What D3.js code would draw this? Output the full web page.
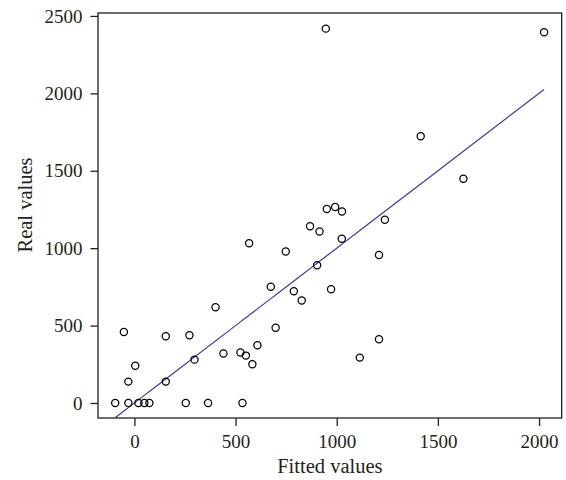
<!DOCTYPE html>
<html>
  <head>
    <meta charset="utf-8">
    <script src="https://d3js.org/d3.v7.min.js"></script>
    <style>
      body { margin: 0; background: #fff; }
      .tick text { font-family: "Liberation Serif", serif; font-size: 19px; fill: #231f20; }
      .label { font-family: "Liberation Serif", serif; font-size: 20.5px; fill: #231f20; }
    </style>
  </head>
  <body>
    <div id="chart"></div>
    <script>
      // fitted (x) and real (y) values
      var fitted = [-95, -52, -30, -30, 4, 20, 49, 74, 155, 155, 254, 272, 297, 364, 401,
                    440, 524, 534, 551, 567, 583, 608, 674, 698, 748, 788, 827, 868, 903,
                    915, 951, 972, 992, 1026, 1025, 946, 1114, 1209, 1209, 1238, 1415, 1626, 2025];
      var real = [0, 459, 138, 0, 241, 0, 0, 0, 431, 138, 0, 437, 280, 0, 618,
                  320, 326, 0, 306, 1032, 250, 373, 751, 486, 979, 722, 662, 1142, 890,
                  1108, 1253, 735, 1266, 1237, 1061, 2418, 293, 956, 412, 1184, 1723, 1449, 2395];
      var xTicks = [0, 500, 1000, 1500, 2000];
      var yTicks = [0, 500, 1000, 1500, 2000, 2500];

      var W = 566, H = 480;
      var plotL = 98, plotR = 561.7, plotT = 13, plotB = 418;

      var svg = d3.select("#chart").append("svg")
          .attr("width", W)
          .attr("height", H)
          .style("display", "block");

      var x = d3.scaleLinear().domain([-180, 2112]).range([plotL, plotR]);
      var y = d3.scaleLinear().domain([-97, 2519]).range([plotB, plotT]);

      var data = fitted.map(function(f, i) { return {f: f, r: real[i]}; });

      // axes (ticks outside, box drawn separately)
      var xAxis = svg.append("g")
          .attr("transform", "translate(0," + plotB + ")")
          .call(d3.axisBottom(x).tickValues(xTicks).tickFormat(d3.format("d"))
            .tickSize(8).tickPadding(9).tickSizeOuter(0));
      var yAxis = svg.append("g")
          .attr("transform", "translate(" + plotL + ",0)")
          .call(d3.axisLeft(y).tickValues(yTicks).tickFormat(d3.format("d"))
            .tickSize(7.5).tickPadding(8).tickSizeOuter(0));
      [xAxis, yAxis].forEach(function(a) {
        a.select(".domain").remove();
        a.selectAll(".tick line").attr("stroke", "#231f20").attr("stroke-width", 1.3);
      });

      // fit line y = fitted
      var sorted = data.slice().sort(function(a, b) { return a.f - b.f; });
      svg.append("path")
          .datum(sorted)
          .attr("fill", "none")
          .attr("stroke", "#3f3a9f")
          .attr("stroke-width", 1.2)
          .attr("d", d3.line().x(function(d) { return x(d.f); }).y(function(d) { return y(d.f); }));

      svg.append("g").selectAll("circle")
          .data(data)
          .enter().append("circle")
            .attr("cx", function(d) { return x(d.f); })
            .attr("cy", function(d) { return y(d.r); })
            .attr("r", 3.6)
            .attr("fill", "none")
            .attr("stroke", "#000")
            .attr("stroke-width", 1.25);

      // plot box
      svg.append("rect")
          .attr("x", plotL).attr("y", plotT)
          .attr("width", plotR - plotL).attr("height", plotB - plotT)
          .attr("fill", "none")
          .attr("stroke", "#231f20")
          .attr("stroke-width", 1.3);

      svg.append("text")
          .attr("class", "label")
          .attr("x", (plotL + plotR) / 2)
          .attr("y", 473)
          .attr("text-anchor", "middle")
          .text("Fitted values");

      svg.append("text")
          .attr("class", "label")
          .attr("transform", "translate(32,205) rotate(-90)")
          .attr("text-anchor", "middle")
          .text("Real values");
    </script>
  </body>
</html>
